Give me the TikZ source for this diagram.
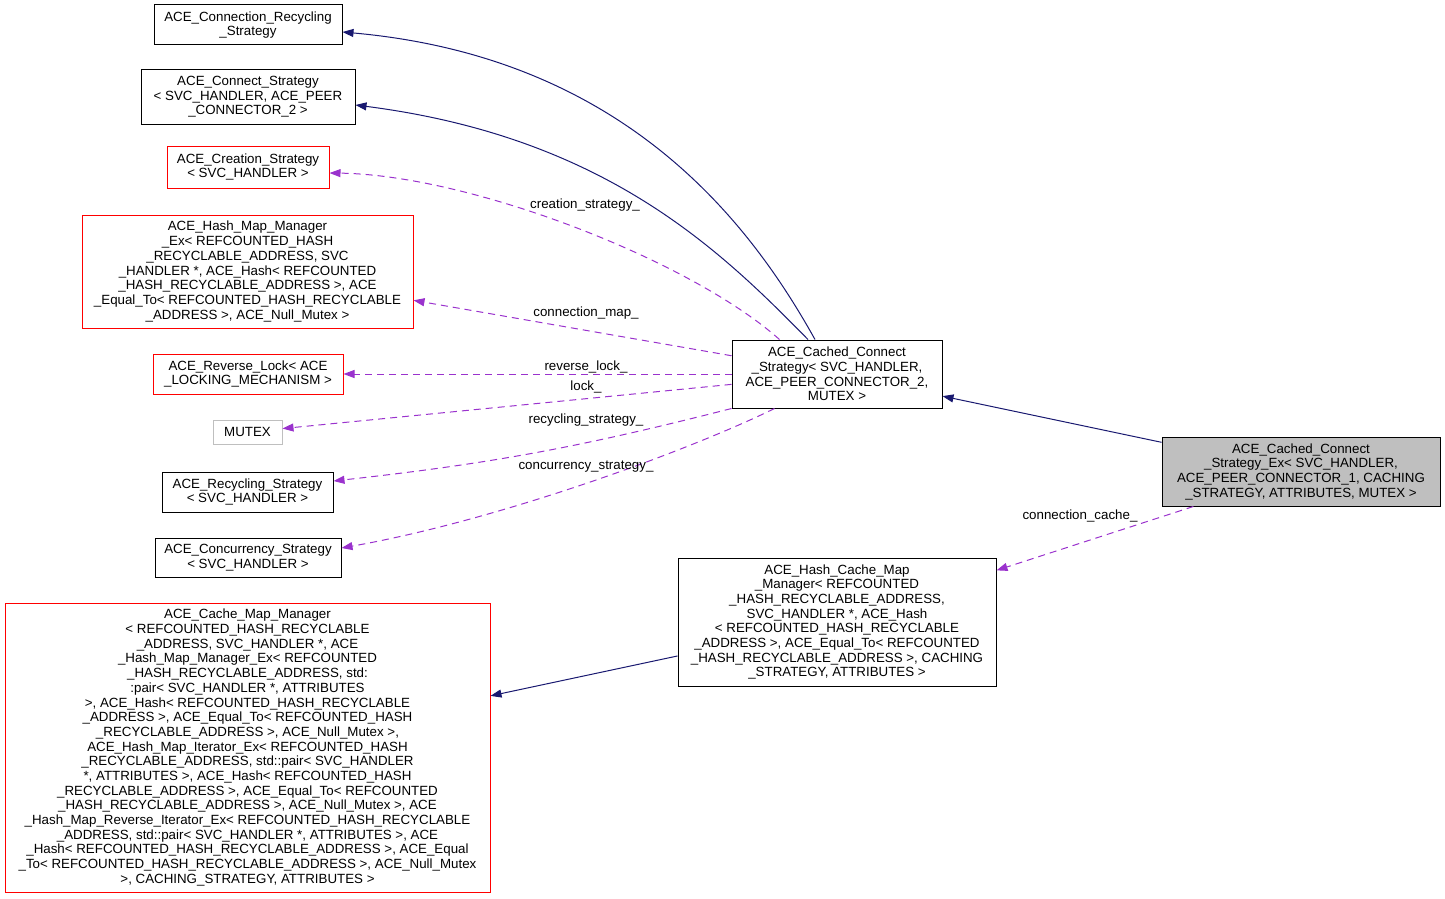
\documentclass[tikz,border=0pt]{standalone}
\usepackage{fontspec}
\setmainfont{Liberation Sans}
\usetikzlibrary{arrows.meta,calc}
\definecolor{navy}{RGB}{25,25,112}
\definecolor{purp}{RGB}{154,50,205}
\definecolor{boxgrey}{RGB}{191,191,191}
\tikzset{
  box/.style={draw=black, line width=1pt, inner sep=0pt, align=center, fill=white,
    font=\fontsize{13.33}{14.67}\selectfont},
  redbox/.style={box, draw=red},
  greybox/.style={box, draw=boxgrey},
  inh/.style={draw=navy, line width=1pt, -{Triangle[length=11pt,width=8pt]}},
  usee/.style={draw=purp, line width=1pt, dash pattern=on 7pt off 5pt, -{Triangle[length=11pt,width=8pt]}},
  lbl/.style={font=\fontsize{13.33}{14.67}\selectfont, inner sep=0pt}
}
\begin{document}
\begin{tikzpicture}[x=1pt,y=-1pt]
\useasboundingbox (0,0) rectangle (1445,899);

\node[box, minimum width=188, minimum height=40] (ConnRecyc) at (248,25)
  {ACE\_Connection\_Recycling\\\_Strategy};
\node[box, minimum width=214, minimum height=54] (ConnStrat) at (248,97)
  {ACE\_Connect\_Strategy\\< SVC\_HANDLER, ACE\_PEER\\\_CONNECTOR\_2 >};
\node[redbox, minimum width=162, minimum height=42] (Creation) at (248,167)
  {ACE\_Creation\_Strategy\\< SVC\_HANDLER >};
\node[redbox, minimum width=331, minimum height=113] (HashMap) at (247.5,271.5)
  {ACE\_Hash\_Map\_Manager\\\_Ex< REFCOUNTED\_HASH\\\_RECYCLABLE\_ADDRESS, SVC\\\_HANDLER *, ACE\_Hash< REFCOUNTED\\\_HASH\_RECYCLABLE\_ADDRESS >, ACE\\\_Equal\_To< REFCOUNTED\_HASH\_RECYCLABLE\\\_ADDRESS >, ACE\_Null\_Mutex >};
\node[redbox, minimum width=190, minimum height=40] (RevLock) at (248,374)
  {ACE\_Reverse\_Lock< ACE\\\_LOCKING\_MECHANISM >};
\node[greybox, minimum width=69, minimum height=24] (Mutex) at (247.5,432) {MUTEX};
\node[box, minimum width=171, minimum height=40] (Recyc) at (247.5,492)
  {ACE\_Recycling\_Strategy\\< SVC\_HANDLER >};
\node[box, minimum width=186, minimum height=39] (Concur) at (248,557.5)
  {ACE\_Concurrency\_Strategy\\< SVC\_HANDLER >};
\node[redbox, minimum width=485, minimum height=289] (CacheMap) at (247.5,747.5)
  {ACE\_Cache\_Map\_Manager\\
< REFCOUNTED\_HASH\_RECYCLABLE\\
\_ADDRESS, SVC\_HANDLER *, ACE\\
\_Hash\_Map\_Manager\_Ex< REFCOUNTED\\
\_HASH\_RECYCLABLE\_ADDRESS, std:\\
:pair< SVC\_HANDLER *, ATTRIBUTES\\
>, ACE\_Hash< REFCOUNTED\_HASH\_RECYCLABLE\\
\_ADDRESS >, ACE\_Equal\_To< REFCOUNTED\_HASH\\
\_RECYCLABLE\_ADDRESS >, ACE\_Null\_Mutex >,\\
ACE\_Hash\_Map\_Iterator\_Ex< REFCOUNTED\_HASH\\
\_RECYCLABLE\_ADDRESS, std::pair< SVC\_HANDLER\\
*, ATTRIBUTES >, ACE\_Hash< REFCOUNTED\_HASH\\
\_RECYCLABLE\_ADDRESS >, ACE\_Equal\_To< REFCOUNTED\\
\_HASH\_RECYCLABLE\_ADDRESS >, ACE\_Null\_Mutex >, ACE\\
\_Hash\_Map\_Reverse\_Iterator\_Ex< REFCOUNTED\_HASH\_RECYCLABLE\\
\_ADDRESS, std::pair< SVC\_HANDLER *, ATTRIBUTES >, ACE\\
\_Hash< REFCOUNTED\_HASH\_RECYCLABLE\_ADDRESS >, ACE\_Equal\\
\_To< REFCOUNTED\_HASH\_RECYCLABLE\_ADDRESS >, ACE\_Null\_Mutex\\
>, CACHING\_STRATEGY, ATTRIBUTES >};
\node[box, minimum width=210, minimum height=68] (Cached) at (837,374)
  {ACE\_Cached\_Connect\\\_Strategy< SVC\_HANDLER,\\ACE\_PEER\_CONNECTOR\_2,\\MUTEX >};
\node[box, minimum width=318, minimum height=128] (HashCache) at (837,622)
  {ACE\_Hash\_Cache\_Map\\\_Manager< REFCOUNTED\\\_HASH\_RECYCLABLE\_ADDRESS,\\SVC\_HANDLER *, ACE\_Hash\\< REFCOUNTED\_HASH\_RECYCLABLE\\\_ADDRESS >, ACE\_Equal\_To< REFCOUNTED\\\_HASH\_RECYCLABLE\_ADDRESS >, CACHING\\\_STRATEGY, ATTRIBUTES >};
\node[box, fill=boxgrey, minimum width=278, minimum height=69] (Ex) at (1301,471.5)
  {ACE\_Cached\_Connect\\\_Strategy\_Ex< SVC\_HANDLER,\\ACE\_PEER\_CONNECTOR\_1, CACHING\\\_STRATEGY, ATTRIBUTES, MUTEX >};

% inheritance
\draw[inh] (Ex) -- (Cached);
\draw[inh] (HashCache) -- (CacheMap);
\draw[inh] ($(Cached.north)+(-22,0)$) .. controls (748,219) and (622,57) .. ($(ConnRecyc.east)+(0,7)$);
\draw[inh] ($(Cached.north)+(-29,0)$) .. controls (720,250) and (605,137) .. ($(ConnStrat.east)+(0,8)$);

% usage
\draw[usee] ($(Cached.north west)+(48,0)$) .. controls (690,260) and (470,175) .. ($(Creation.east)+(0,6)$);
\draw[usee] (Cached) -- (HashMap);
\draw[usee] (Cached) -- (RevLock);
\draw[usee] (Cached) -- (Mutex);
\draw[usee] (Cached.south west) to[bend left=4] ($(Recyc.east)+(0,-11)$);
\draw[usee] ($(Cached.south west)+(43,0)$) .. controls (690,450) and (500,520) .. ($(Concur.east)+(0,-9.5)$);
\draw[usee] (Ex) -- (HashCache);

% labels
\node[lbl] (l1) at (585,205) {creation\_strategy\_};
\node[lbl] (l2) at (586,313) {connection\_map\_};
\node[lbl] (l3) at (586,367) {reverse\_lock\_};
\node[lbl] (l4) at (586,387) {lock\_};
\node[lbl] (l5) at (586,420) {recycling\_strategy\_};
\node[lbl] (l6) at (586,467) {concurrency\_strategy\_};
\node[lbl] (l7) at (1080,516) {connection\_cache\_};
\end{tikzpicture}
\end{document}
